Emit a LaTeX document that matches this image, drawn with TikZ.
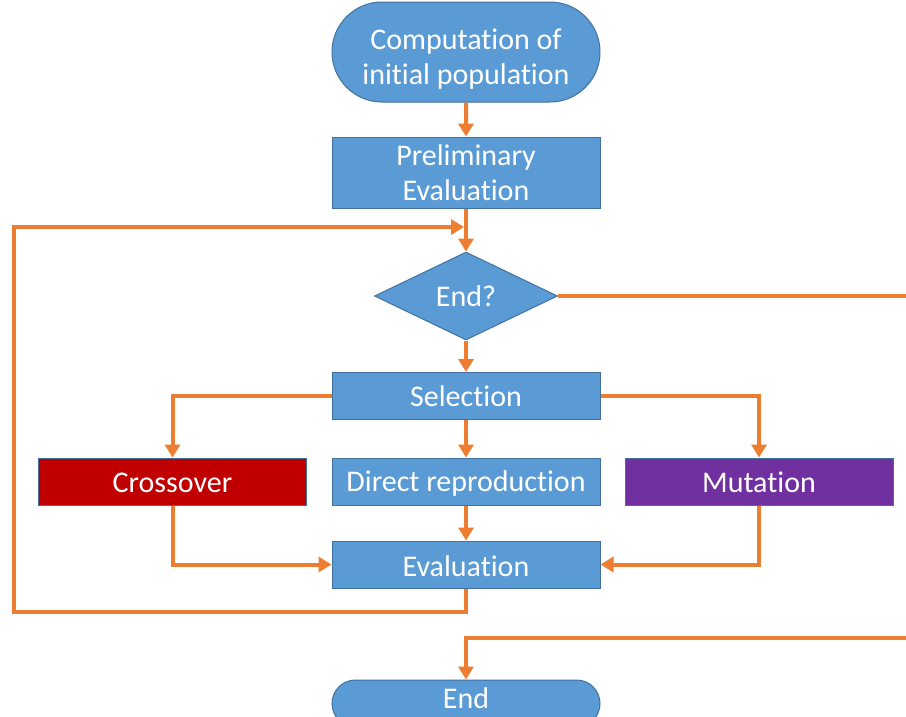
\documentclass[tikz,border=0pt]{standalone}
\usepackage{fontspec}
\setmainfont{Carlito}[Ligatures={NoCommon,NoRare,NoContextual},RawFeature={-calt;-rlig}]
\usetikzlibrary{arrows.meta,shapes.geometric,shapes.misc}
\definecolor{boxblue}{HTML}{5B9BD5}
\definecolor{boxedge}{HTML}{41719C}
\definecolor{lineorange}{HTML}{ED7D31}
\definecolor{crossred}{HTML}{C00000}
\definecolor{mutpurple}{HTML}{7030A0}
\newcommand{\nolig}{\kern0pt }
\newcommand{\shiftv}[2]{\raisebox{#1}[\height][\depth]{#2}}
\tikzset{
  base/.style={draw=boxedge, line width=1pt, fill=boxblue, text=white, align=center,
    font=\fontsize{30}{35}\selectfont, inner sep=0pt},
  procbox/.style={base, rectangle, minimum width=268pt, minimum height=47pt},
  termbox/.style={base, rounded rectangle, minimum width=268pt},
  decbox/.style={base, diamond, minimum width=183pt, minimum height=88pt},
  conn/.style={draw=lineorange, line width=4pt},
  arr/.style={conn, -{Triangle[length=13pt,width=15pt]}},
}
\begin{document}
\begin{tikzpicture}[x=1pt,y=-1pt]
\useasboundingbox (0,0) rectangle (906,716);
\fill[white] (0,0) rectangle (906,716);
\clip (0,0) rectangle (906,716);

\node[termbox, minimum height=100pt] (start) at (466,52) {\shiftv{-8pt}{\begin{tabular}{@{}c@{}}Computat\nolig ion of\\init\nolig ial population\end{tabular}}};
\node[procbox, minimum height=71pt] (prelim) at (466,172.5) {Preliminary\\Evaluat\nolig ion};
\node[decbox] (endq) at (466,296) {End?};
\node[procbox] (sel) at (466,396) {Select\nolig ion};
\node[procbox, fill=crossred] (cross) at (172.5,481.5) {\shiftv{-1pt}{Crossover}};
\node[procbox] (direct) at (466,481.5) {\shiftv{-2pt}{Direct reproduct\nolig ion}};
\node[procbox, fill=mutpurple] (mut) at (759,481.5) {\shiftv{-1pt}{Mutat\nolig ion}};
\node[procbox] (eval) at (466,564.5) {\shiftv{-2pt}{Evaluat\nolig ion}};
\node[termbox, minimum height=47pt] (fin) at (466,703.5) {\shiftv{5pt}{End}};

\coordinate (loopin) at (466,227);
\coordinate (loopleft) at (14,612);
\coordinate (exitA) at (910,296);
\coordinate (exitB) at (910,638);

\draw[arr] (start) -- (prelim);
\draw[conn] (prelim.south) -- (loopin);
\draw[arr] (loopin) -- (endq.north);
\draw[arr, shorten >=2pt] (eval.south) |- (loopleft) |- (loopin);
\draw[conn] (endq.east) -- (exitA);
\draw[arr] (endq) -- (sel);
\draw[arr] (sel.west) -| (cross.north);
\draw[arr] (sel.east) -| (mut.north);
\draw[arr] (sel) -- (direct);
\draw[arr] (direct) -- (eval);
\draw[arr] (cross.south) |- (eval.west);
\draw[arr] (mut.south) |- (eval.east);
\draw[arr] (exitB) -| (fin.north);
\end{tikzpicture}
\end{document}
